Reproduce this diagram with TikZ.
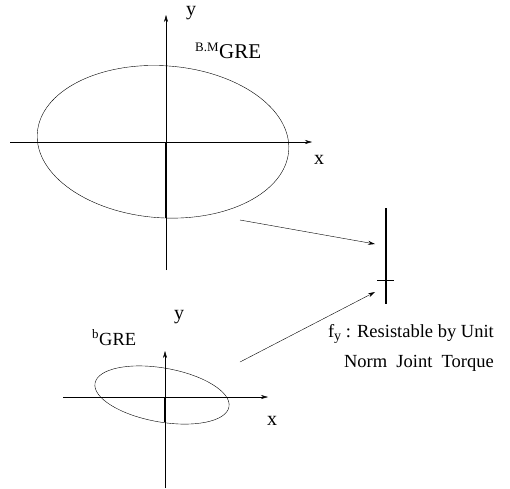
\documentclass[tikz,border=0pt]{standalone}
\usepackage{fontspec}
\setmainfont{Liberation Serif}
\usetikzlibrary{arrows.meta}

\begin{document}
\begin{tikzpicture}[x=1pt, y=-1pt, >={Stealth[length=7pt, width=4pt]},
    axis/.style={thin, ->},
    ell/.style={thin},
    bold/.style={line width=1.6pt},
    lbl/.style={font=\fontsize{20}{22}\selectfont, inner sep=0pt},
    txt/.style={font=\fontsize{18.5}{30}\selectfont, inner sep=0pt}]
    \useasboundingbox (0,0) rectangle (510,488);

    % Upper frame: B.M GRE
    \coordinate (O1) at (166,142);
    \draw[axis] (166,270) -- (166,15) coordinate (y1);
    \draw[axis] (10,142) -- (312,142) coordinate (x1);
    \node[lbl] (ylab1) at (191,13) {y};
    \node[lbl] (xlab1) at (319,160) {x};
    \draw[ell, rotate around={-4:(O1)}] (163,142) ellipse (126 and 76);
    \draw[bold] (O1) -- (166,218) coordinate (b1);
    \node[txt, anchor=base west] (bmgre) at (195,58)
        {\textsuperscript{B.M}\fontsize{21}{22}\selectfont GRE};

    % Lower frame: b GRE
    \coordinate (O2) at (165,397);
    \draw[axis] (165,488) -- (165,351) coordinate (y2);
    \draw[axis] (63,397) -- (268,397) coordinate (x2);
    \node[lbl] (ylab2) at (179,317) {y};
    \node[lbl] (xlab2) at (272,421) {x};
    \draw[ell, rotate around={-10:(162,395)}] (162,395) ellipse (68 and 27);
    \draw[bold] (O2) -- (165,422) coordinate (b2);
    \node[txt, anchor=base west] (bgre) at (92,345) {\textsuperscript{b}GRE};

    % Resistable force segment
    \coordinate (s1) at (386,208);
    \coordinate (s2) at (386,304);
    \draw[bold] (s1) -- (s2);
    \draw (377,280) coordinate (t1) -- (394,280) coordinate (t2);

    % Mapping arrows
    \coordinate (a1) at (240,220);
    \coordinate (e1) at (375,244);
    \coordinate (a2) at (240,362);
    \coordinate (e2) at (375,292);
    \draw[thin, ->] (a1) -- (e1);
    \draw[thin, ->] (a2) -- (e2);

    \node[txt, anchor=base east] (cap1) at (494,337)
        {f\raisebox{-0.45ex}{\fontsize{14}{14}\selectfont y} : Resistable by Unit};
    \node[txt, anchor=base east] (cap2) at (494,367)
        {Norm\ \ Joint\ \ Torque};
\end{tikzpicture}
\end{document}
